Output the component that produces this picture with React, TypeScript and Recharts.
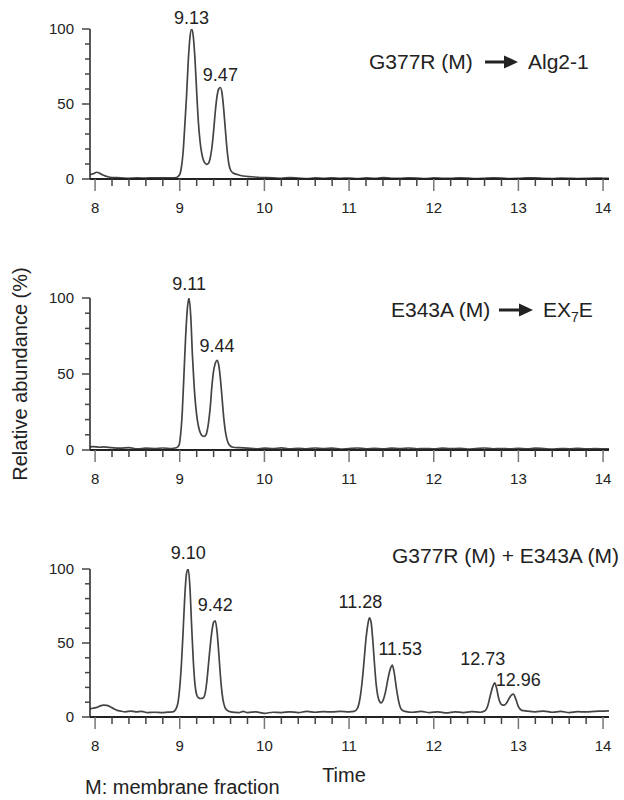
import React from "react"
import { LineChart, Line, XAxis, YAxis, ReferenceDot } from "recharts"

// chromatogram traces: [time, relative abundance]
const traceAlg: [number, number][] = [
  [7.94, 3], [7.98, 3.5], [8.02, 4.5], [8.06, 3.6], [8.1, 2.5], [8.15, 1.5], [8.2, 1],
  [8.3, 0.8], [8.4, 0.5], [8.5, 0.7], [8.6, 0.6], [8.7, 0.8], [8.8, 0.7], [8.9, 0.8],
  [8.96, 1], [9.0, 3], [9.02, 8], [9.04, 18], [9.06, 36], [9.08, 55], [9.1, 78],
  [9.12, 94], [9.14, 100], [9.16, 95], [9.18, 80], [9.2, 58], [9.22, 38], [9.24, 25],
  [9.26, 17], [9.28, 12.5], [9.3, 10.5], [9.32, 9.8], [9.34, 10.5], [9.36, 14],
  [9.38, 21], [9.4, 32], [9.42, 45], [9.44, 55], [9.46, 60], [9.48, 61], [9.5, 57],
  [9.52, 46], [9.54, 32], [9.56, 19], [9.58, 10], [9.6, 6], [9.63, 4], [9.68, 3],
  [9.75, 2], [9.85, 1.5], [9.95, 1], [10.1, 0.8], [10.2, 0.5], [10.3, 0.9], [10.4, 0.6],
  [10.5, 0.3], [10.6, 0.7], [10.7, 0.4], [10.8, 0.8], [10.9, 0.5], [11.0, 0.6],
  [11.1, 0.3], [11.2, 0.7], [11.3, 0.4], [11.4, 0.9], [11.5, 0.5], [11.6, 0.4],
  [11.7, 0.7], [11.8, 0.6], [11.9, 0.3], [12.0, 0.7], [12.1, 0.5], [12.2, 0.4],
  [12.3, 0.8], [12.4, 0.6], [12.5, 0.3], [12.6, 0.5], [12.7, 0.7], [12.8, 0.6],
  [12.9, 0.3], [13.0, 0.4], [13.1, 0.7], [13.2, 0.8], [13.3, 0.4], [13.4, 0.3],
  [13.5, 0.6], [13.6, 0.5], [13.7, 0.3], [13.8, 0.4], [13.9, 0.6], [14.0, 0.5], [14.07, 0.4],
]

const traceEx7e: [number, number][] = [
  [7.94, 2], [7.98, 2.2], [8.05, 1.8], [8.1, 2], [8.2, 1.5], [8.3, 1.2], [8.4, 1.5],
  [8.5, 0.8], [8.6, 1.2], [8.7, 1], [8.8, 1.3], [8.9, 1], [8.96, 1.5], [8.99, 3],
  [9.01, 10], [9.03, 25], [9.05, 50], [9.07, 75], [9.09, 93], [9.11, 100], [9.13, 88],
  [9.15, 62], [9.17, 42], [9.19, 28], [9.21, 19], [9.23, 13.5], [9.25, 10.5],
  [9.27, 9.2], [9.29, 9], [9.31, 10], [9.34, 18], [9.36, 28], [9.38, 42], [9.4, 52],
  [9.42, 57], [9.44, 59], [9.46, 56], [9.48, 47], [9.5, 34], [9.52, 21], [9.54, 12],
  [9.56, 6.5], [9.59, 3], [9.63, 1.8], [9.7, 1.5], [9.8, 1.2], [9.9, 0.8], [10.0, 1.2],
  [10.1, 0.9], [10.2, 1.4], [10.3, 0.7], [10.4, 1.1], [10.5, 0.8], [10.6, 1.3],
  [10.7, 0.9], [10.8, 1.2], [10.9, 0.6], [11.0, 1], [11.1, 1.3], [11.2, 0.8], [11.3, 1.1],
  [11.4, 0.7], [11.5, 1.2], [11.6, 0.9], [11.7, 1.3], [11.8, 0.8], [11.9, 1], [12.0, 0.7],
  [12.1, 1.2], [12.2, 0.9], [12.3, 1.1], [12.4, 0.6], [12.5, 1], [12.6, 1.3], [12.7, 0.8],
  [12.8, 1], [12.9, 0.7], [13.0, 1.1], [13.1, 0.8], [13.2, 1.2], [13.3, 0.9], [13.4, 0.6],
  [13.5, 1], [13.6, 0.8], [13.7, 1.1], [13.8, 0.7], [13.9, 0.9], [14.0, 0.8], [14.07, 0.7],
]

const traceMix: [number, number][] = [
  [7.94, 5.5], [7.98, 6], [8.02, 6.5], [8.06, 7.5], [8.1, 8], [8.14, 7.8], [8.18, 7],
  [8.22, 5.5], [8.26, 4.5], [8.3, 4], [8.36, 3.5], [8.42, 4], [8.48, 3.5], [8.55, 3.8],
  [8.62, 3], [8.7, 3.2], [8.78, 3], [8.86, 3.3], [8.92, 3.5], [8.96, 6], [8.98, 10],
  [9.0, 20], [9.02, 36], [9.04, 58], [9.06, 82], [9.08, 97], [9.1, 100], [9.12, 88],
  [9.14, 62], [9.16, 38], [9.18, 22], [9.2, 15], [9.22, 13], [9.25, 12.5], [9.28, 13],
  [9.3, 16], [9.32, 24], [9.34, 36], [9.36, 48], [9.38, 58], [9.4, 64], [9.42, 65],
  [9.44, 58], [9.46, 44], [9.48, 28], [9.5, 16], [9.52, 9], [9.55, 5], [9.6, 3.5],
  [9.7, 3], [9.75, 3.8], [9.8, 3], [9.9, 3.5], [10.0, 2.5], [10.1, 3.2], [10.2, 3],
  [10.3, 3.5], [10.4, 3], [10.5, 3.8], [10.6, 3.2], [10.7, 3.6], [10.8, 3.4], [10.9, 3.8],
  [11.0, 3.5], [11.06, 3.8], [11.1, 6], [11.13, 13], [11.16, 27], [11.18, 40],
  [11.2, 53], [11.22, 62], [11.24, 67], [11.26, 64], [11.28, 52], [11.3, 36], [11.32, 22],
  [11.34, 14], [11.36, 10.5], [11.38, 9.5], [11.4, 11], [11.43, 17], [11.46, 26],
  [11.49, 33], [11.51, 35], [11.53, 31], [11.56, 19], [11.59, 9.5], [11.62, 5],
  [11.66, 3.8], [11.75, 3.2], [11.85, 3.8], [11.95, 3], [12.05, 3.5], [12.15, 2.8],
  [12.25, 3.5], [12.35, 3], [12.45, 3.6], [12.55, 3.2], [12.6, 4], [12.64, 8],
  [12.67, 15], [12.7, 21], [12.72, 23], [12.74, 20], [12.77, 12], [12.8, 8.5],
  [12.83, 8], [12.86, 9.5], [12.89, 12.5], [12.92, 15], [12.94, 15.5], [12.97, 12],
  [13.0, 7], [13.04, 4.5], [13.1, 4], [13.2, 3.5], [13.3, 4], [13.4, 3.2], [13.5, 3.8],
  [13.6, 3], [13.7, 3.6], [13.8, 3.4], [13.9, 3.8], [14.0, 4], [14.07, 4.2],
]

// peak annotations: apex time, apex value, label
const peaksAlg = [
  { t: 9.14, v: 100, text: "9.13" },
  { t: 9.48, v: 61, text: "9.47" },
]
const peaksEx7e = [
  { t: 9.11, v: 100, text: "9.11" },
  { t: 9.44, v: 59, text: "9.44" },
]
const peaksMix = [
  { t: 9.1, v: 100, text: "9.10" },
  { t: 9.42, v: 65, text: "9.42" },
  { t: 11.24, v: 67, text: "11.28" },
  { t: 11.51, v: 35, text: "11.53" },
  { t: 12.72, v: 23, text: "12.73" },
  { t: 12.94, v: 15.5, text: "12.96" },
]

const xTicks = [
  8, 8.2, 8.4, 8.6, 8.8, 9, 9.2, 9.4, 9.6, 9.8, 10, 10.2, 10.4, 10.6, 10.8, 11,
  11.2, 11.4, 11.6, 11.8, 12, 12.2, 12.4, 12.6, 12.8, 13, 13.2, 13.4, 13.6, 13.8, 14,
]
const yTicks = [0, 10, 20, 30, 40, 50, 60, 70, 80, 90, 100]
const yLabelled = [0, 50, 100]

// label nudges [dx, gap above apex]
const labelNudge: Record<string, [number, number]> = {
  "9.13": [0, 5],
  "9.47": [0, 7],
  "9.11": [0, 8],
  "9.44": [0, 8],
  "9.10": [0, 10],
  "9.42": [0, 10],
  "11.28": [-9, 10],
  "11.53": [8, 10],
  "12.73": [-12, 18],
  "12.96": [5, 8],
}

const FONT = "'Liberation Sans', Arial, Helvetica, sans-serif"
const INK = "#222"

const XTick = (props: any) => {
  const { x, y, payload } = props
  const v = payload.value
  const major = Math.abs(v - Math.round(v)) < 1e-6
  return (
    <g>
      <line x1={x} x2={x} y1={y} y2={y + (major ? 12 : 7)} stroke={major ? "#777" : "#444"} strokeWidth={1.5} />
      {major && (
        <text x={x} y={y + 34} textAnchor="middle" fontSize={15} fill={INK} fontFamily={FONT}>
          {Math.round(v)}
        </text>
      )}
    </g>
  )
}

const YTick = (props: any) => {
  const { x, y, payload } = props
  const v = payload.value
  const major = yLabelled.includes(v)
  return (
    <g>
      <line x1={x - (major ? 8 : 5)} x2={x} y1={y} y2={y} stroke="#444" strokeWidth={1.5} />
      {major && (
        <text x={x - 16} y={y + 5} textAnchor="end" fontSize={15} fill={INK} fontFamily={FONT}>
          {v}
        </text>
      )}
    </g>
  )
}

function Panel({ trace, peaks, top, plotH }: { trace: [number, number][]; peaks: typeof peaksMix; top: number; plotH: number }) {
  const data = trace.map(([t, v]) => ({ t, v }))
  return (
    <div style={{ position: "absolute", left: 0, top }}>
      <LineChart width={624} height={29 + plotH + 51} data={data} margin={{ top: 29, right: 15, left: 30, bottom: 11 }}>
        <XAxis
          dataKey="t"
          type="number"
          domain={[7.94, 14.07]}
          allowDataOverflow
          ticks={xTicks}
          interval={0}
          tickSize={0}
          tickMargin={0}
          tickLine={false}
          tick={<XTick />}
          height={40}
          axisLine={{ stroke: INK, strokeWidth: 2 }}
        />
        <YAxis
          type="number"
          domain={[0, 100]}
          allowDataOverflow
          ticks={yTicks}
          interval={0}
          tickSize={0}
          tickMargin={0}
          tickLine={false}
          tick={<YTick />}
          width={60}
          axisLine={{ stroke: INK, strokeWidth: 1.5 }}
        />
        <Line
          type="monotone"
          dataKey="v"
          stroke="#444"
          strokeWidth={1.7}
          dot={false}
          isAnimationActive={false}
        />
        {peaks.map((p) => {
          const [dx, gap] = labelNudge[p.text] || [0, 6]
          return (
            <ReferenceDot
              key={p.text}
              x={p.t}
              y={p.v}
              r={0}
              ifOverflow="visible"
              shape={(s: any) => (
                <text x={s.cx + dx} y={s.cy - gap} textAnchor="middle" fontSize={18} fill={INK} fontFamily={FONT}>
                  {p.text}
                </text>
              )}
            />
          )
        })}
      </LineChart>
    </div>
  )
}

const Arrow = ({ x1, x2, y }: { x1: number; x2: number; y: number }) => (
  <g>
    <line x1={x1} x2={x2 - 10} y1={y} y2={y} stroke={INK} strokeWidth={3} />
    <polygon points={`${x2 - 14},${y - 6.5} ${x2},${y} ${x2 - 14},${y + 6.5}`} fill={INK} />
  </g>
)

export default function App() {
  return (
    <div style={{ position: "absolute", left: 0, top: 0, width: 624, height: 800, background: "#fff", fontFamily: FONT }}>
      <Panel trace={traceAlg} peaks={peaksAlg} top={0} plotH={150} />
      <Panel trace={traceEx7e} peaks={peaksEx7e} top={269} plotH={152} />
      <Panel trace={traceMix} peaks={peaksMix} top={540} plotH={148} />
      <svg width={624} height={800} style={{ position: "absolute", left: 0, top: 0, pointerEvents: "none" }} fontFamily={FONT} fill={INK}>
        <text x={369} y={69} fontSize={21}>G377R (M)</text>
        <Arrow x1={485} x2={518} y={62} />
        <text x={528} y={69} fontSize={21}>Alg2-1</text>

        <text x={391} y={317} fontSize={21}>E343A (M)</text>
        <Arrow x1={499} x2={533} y={310} />
        <text x={543} y={317} fontSize={21}>
          EX<tspan fontSize={14} dy={5}>7</tspan><tspan dy={-5}>E</tspan>
        </text>

        <text x={392} y={563} fontSize={21}>G377R (M) + E343A (M)</text>

        <text transform="translate(27,374) rotate(-90)" textAnchor="middle" fontSize={20}>
          Relative abundance (%)
        </text>
        <text x={344} y={782} textAnchor="middle" fontSize={20}>Time</text>
        <text x={85} y={794} fontSize={20}>M: membrane fraction</text>
      </svg>
    </div>
  )
}
